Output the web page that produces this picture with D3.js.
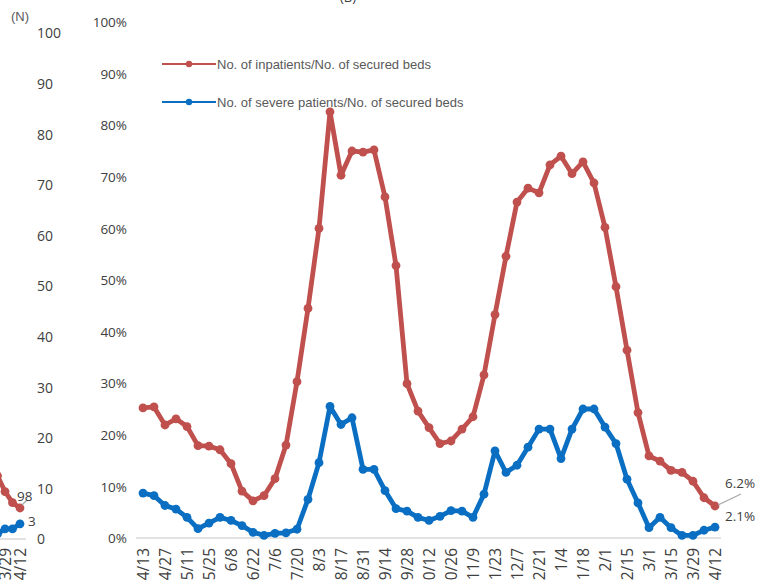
<!DOCTYPE html>
<html>
<head>
<meta charset="utf-8">
<script src="https://cdn.jsdelivr.net/npm/d3@7"></script>
<style>
  html, body { margin: 0; padding: 0; background: #ffffff; }
  svg { display: block; }
</style>
</head>
<body>
<svg id="chart" width="760" height="582"></svg>
<script>
// ---------- DATA ----------
const weeks = ["4/13","4/20","4/27","5/4","5/11","5/18","5/25","6/1","6/8","6/15","6/22","6/29",
  "7/6","7/13","7/20","7/27","8/3","8/10","8/17","8/24","8/31","9/7","9/14","9/21","9/28",
  "10/5","10/12","10/19","10/26","11/2","11/9","11/16","11/23","11/30","12/7","12/14","12/21","12/28",
  "1/4","1/11","1/18","1/25","2/1","2/8","2/15","2/22","3/1","3/8","3/15","3/22","3/29","4/5","4/12"];

// No. of inpatients / No. of secured beds (%)
const inpatientRate = [25.2,25.4,21.9,23.1,21.6,17.9,17.8,17.1,14.4,9.1,7.2,8.2,11.5,18.0,30.3,44.5,
  60.0,82.6,70.3,75.0,74.8,75.2,66.1,52.8,29.9,24.6,21.4,18.3,18.8,21.1,23.5,31.6,43.3,54.6,65.1,
  67.8,66.9,72.3,74.0,70.6,72.9,68.8,60.2,48.7,36.4,24.3,15.9,14.9,13.1,12.7,11.0,7.8,6.2];

// No. of severe patients / No. of secured beds (%)
const severeRate = [8.7,8.2,6.3,5.6,4.0,1.8,2.9,4.0,3.4,2.4,1.1,0.5,0.9,1.0,1.7,7.5,14.6,25.5,22.0,
  23.3,13.3,13.3,9.2,5.7,5.2,4.0,3.4,4.2,5.3,5.2,4.0,8.5,16.9,12.7,14.1,17.6,21.1,21.1,15.4,21.1,
  25.0,25.0,21.5,18.3,11.4,6.8,2.0,4.0,2.0,0.5,0.5,1.5,2.1];

const pctTicks = [0,10,20,30,40,50,60,70,80,90,100];
const seriesNames = ["No. of inpatients/No. of secured beds", "No. of severe patients/No. of secured beds"];
const seriesColors = ["#c0504d", "#0a6fc2"];
const endLabels = ["6.2%", "2.1%"];

// Partial neighbouring chart (left edge, cropped)
const leftWeeks = ["3/22","3/29","4/5","4/12"];
const leftInpatients = [200,150,115,98];   // on hidden 0-1600 axis
const leftSevere = [1,2,2,3];              // on 0-100 (N) axis
const nTicks = [0,10,20,30,40,50,60,70,80,90,100];

// ---------- DRAW ----------
const svg = d3.select("#chart");
const font = "'Open Sans', 'Noto Sans', sans-serif";
const textCol = "#404040";

// main scales
const x = d3.scalePoint().domain(d3.range(weeks.length)).range([143, 715]);
const y = d3.scaleLinear().domain([0, 100]).range([538, 22]);

// partially visible title at top
svg.append("text").attr("x", 348).attr("y", 2).attr("text-anchor", "middle")
  .attr("font-family", font).attr("font-size", 13).attr("fill", textCol).text("(B)");

// baseline
svg.append("line").attr("x1", 136).attr("x2", 721).attr("y1", y(0)).attr("y2", y(0))
  .attr("stroke", "#d9d9d9").attr("stroke-width", 1.5);

// y axis (labels only)
const yAxis = d3.axisLeft(y).tickValues(pctTicks).tickSize(0).tickPadding(0)
  .tickFormat(d => d + "%");
const yg = svg.append("g").attr("transform", "translate(127,0)").call(yAxis);
yg.select(".domain").remove();
yg.selectAll("text").attr("font-family", font).attr("font-size", 13.5).attr("fill", textCol)
  .attr("dy", "0.35em");

// x axis labels (every other week), rotated
const xg = svg.append("g");
xg.selectAll("text").data(d3.range(0, weeks.length, 2)).join("text")
  .attr("transform", i => `translate(${x(i)},548) rotate(-90)`)
  .attr("text-anchor", "end").attr("dy", "0.36em")
  .attr("font-family", font).attr("font-size", 15.5).attr("fill", textCol)
  .text(i => weeks[i]);

// lines
const line = d3.line().x((d, i) => x(i)).y(d => y(d));
[inpatientRate, severeRate].forEach((vals, s) => {
  const g = svg.append("g");
  g.append("path").attr("d", line(vals)).attr("fill", "none")
    .attr("stroke", seriesColors[s]).attr("stroke-width", 4.8).attr("stroke-linejoin", "round");
  g.selectAll("circle").data(vals).join("circle")
    .attr("cx", (d, i) => x(i)).attr("cy", d => y(d)).attr("r", 4.4)
    .attr("fill", seriesColors[s]);
});

// end labels
const lastI = weeks.length - 1;
svg.append("line").attr("x1", x(lastI) + 3).attr("y1", y(inpatientRate[lastI]) - 1)
  .attr("x2", 741).attr("y2", 494).attr("stroke", "#a6a6a6").attr("stroke-width", 1.2);
svg.append("text").attr("x", 725).attr("y", 483).attr("dy", "0.35em")
  .attr("font-family", font).attr("font-size", 13.5).attr("fill", textCol).text(endLabels[0]);
svg.append("text").attr("x", 725).attr("y", 516).attr("dy", "0.35em")
  .attr("font-family", font).attr("font-size", 13.5).attr("fill", textCol).text(endLabels[1]);

// legend
const legY = [64, 102];
seriesNames.forEach((name, s) => {
  const g = svg.append("g");
  g.append("line").attr("x1", 162).attr("x2", 216).attr("y1", legY[s]).attr("y2", legY[s])
    .attr("stroke", seriesColors[s]).attr("stroke-width", 2.2);
  g.append("circle").attr("cx", 189).attr("cy", legY[s]).attr("r", 3.2).attr("fill", seriesColors[s]);
  g.append("text").attr("x", 217).attr("y", legY[s]).attr("dy", "0.36em")
    .attr("font-family", "'Liberation Sans', Arial, sans-serif").attr("font-size", 13)
    .attr("fill", "#595959").text(name);
});

// ---------- left partial chart ----------
const xl = d3.scalePoint().domain(leftWeeks).range([-2.5, 20]);
const yN = d3.scaleLinear().domain([0, 100]).range([539, 33]);
const yHidden = d3.scaleLinear().domain([0, 1600]).range([539, 33]);

svg.append("line").attr("x1", 0).attr("x2", 26).attr("y1", 539).attr("y2", 539)
  .attr("stroke", "#d9d9d9").attr("stroke-width", 1.5);

const nAxis = d3.axisRight(yN).tickValues(nTicks).tickSize(0).tickPadding(0);
const ng = svg.append("g").attr("transform", "translate(37,0)").call(nAxis);
ng.select(".domain").remove();
ng.selectAll("text").attr("font-family", font).attr("font-size", 14).attr("fill", textCol)
  .attr("dy", "0.35em").attr("x", 0);

svg.append("text").attr("x", 11).attr("y", 16).attr("dy", "0.35em")
  .attr("font-family", "'Liberation Sans', Arial, sans-serif").attr("font-size", 13)
  .attr("fill", "#595959").text("(N)");

const lineL1 = d3.line().x((d, i) => xl(leftWeeks[i])).y(d => yHidden(d));
const lineL2 = d3.line().x((d, i) => xl(leftWeeks[i])).y(d => yN(d));
svg.append("path").attr("d", lineL1(leftInpatients)).attr("fill", "none")
  .attr("stroke", seriesColors[0]).attr("stroke-width", 4.8);
svg.selectAll(".lp1").data(leftInpatients).join("circle").attr("class", "lp1")
  .attr("cx", (d, i) => xl(leftWeeks[i])).attr("cy", d => yHidden(d)).attr("r", 4.4)
  .attr("fill", seriesColors[0]);
svg.append("path").attr("d", lineL2(leftSevere)).attr("fill", "none")
  .attr("stroke", seriesColors[1]).attr("stroke-width", 4.8);
svg.selectAll(".lp2").data(leftSevere).join("circle").attr("class", "lp2")
  .attr("cx", (d, i) => xl(leftWeeks[i])).attr("cy", d => yN(d)).attr("r", 4.4)
  .attr("fill", seriesColors[1]);

// left chart value labels
const lastL = leftWeeks.length - 1;
svg.append("line").attr("x1", xl(leftWeeks[lastL]) + 2).attr("y1", yHidden(leftInpatients[lastL]) - 3)
  .attr("x2", 27).attr("y2", 500).attr("stroke", "#a6a6a6").attr("stroke-width", 1.2);
svg.append("text").attr("x", 17).attr("y", 496).attr("dy", "0.35em")
  .attr("font-family", font).attr("font-size", 13.5).attr("fill", textCol).text(leftInpatients[lastL]);
svg.append("text").attr("x", 28).attr("y", 521).attr("dy", "0.35em")
  .attr("font-family", font).attr("font-size", 13.5).attr("fill", textCol).text(leftSevere[lastL]);

// left x labels
svg.selectAll(".lxl").data([1, 3]).join("text").attr("class", "lxl")
  .attr("transform", i => `translate(${xl(leftWeeks[i])},548) rotate(-90)`)
  .attr("text-anchor", "end").attr("dy", "0.36em")
  .attr("font-family", font).attr("font-size", 15.5).attr("fill", textCol)
  .text(i => leftWeeks[i]);
</script>
</body>
</html>
